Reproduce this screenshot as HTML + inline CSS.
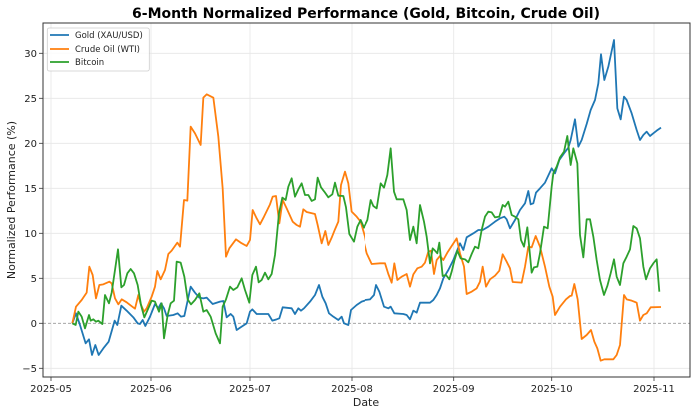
<!DOCTYPE html>
<html><head><meta charset="utf-8"><style>
body{margin:0;background:#fff;}
svg{display:block;font-family:"DejaVu Sans","Liberation Sans",sans-serif;}
</style></head><body>
<svg width="696" height="415" viewBox="0 0 696 415" xmlns="http://www.w3.org/2000/svg">
<rect width="696" height="415" fill="#fff"/>
<text x="366" y="18" text-anchor="middle" font-size="14" font-weight="bold" fill="#000">6-Month Normalized Performance (Gold, Bitcoin, Crude Oil)</text>
<g stroke="#e6e6e6" stroke-width="0.8">
<line x1="51" y1="23" x2="51" y2="377"/><line x1="151" y1="23" x2="151" y2="377"/><line x1="250" y1="23" x2="250" y2="377"/><line x1="352" y1="23" x2="352" y2="377"/><line x1="453.7" y1="23" x2="453.7" y2="377"/><line x1="551.7" y1="23" x2="551.7" y2="377"/><line x1="654" y1="23" x2="654" y2="377"/>
<line x1="43" y1="53.3" x2="690" y2="53.3"/><line x1="43" y1="98.3" x2="690" y2="98.3"/><line x1="43" y1="143.3" x2="690" y2="143.3"/><line x1="43" y1="188.3" x2="690" y2="188.3"/><line x1="43" y1="233.3" x2="690" y2="233.3"/><line x1="43" y1="278.3" x2="690" y2="278.3"/><line x1="43" y1="368.3" x2="690" y2="368.3"/>
</g>
<line x1="43" y1="323.3" x2="690" y2="323.3" stroke="#999" stroke-width="0.8" stroke-dasharray="3,2"/>
<defs><clipPath id="c1"><rect x="0" y="0" width="975" height="1300"/></clipPath><clipPath id="c2"><rect x="15" y="0" width="990" height="1300"/></clipPath></defs>
<g transform="translate(40,0) scale(0.33333)" fill="none" stroke-width="1.8" stroke-linejoin="round" clip-path="url(#c1)">
<polyline vector-effect="non-scaling-stroke" stroke="#1f77b4" points="97,970 108,940 120,975 137,1030 147,1018 156,1065 166,1035 176,1065 190,1045 206,1025 216,990 224,962 232,975 244,917 260,932 280,952 293,970 300,972 308,960 316,978 330,950 345,912 355,925 363,910 372,925 380,948 400,945 413,940 423,950 433,948 452,860 465,878 478,893 490,895 500,893 518,912 540,905 550,903 560,952 572,942 580,950 590,990 605,980 620,970 630,935 637,928 650,942 685,942 697,962 710,958 718,955 728,922 755,925 765,942 775,925 783,932 792,925 810,905 825,885 837,855 847,890 857,910 867,940 880,950 895,960 905,950 912,970 925,975 933,930 950,915 965,905 980,900 990,890"/>
<polyline vector-effect="non-scaling-stroke" stroke="#ff7f0e" points="97,970 108,920 125,900 140,878 148,800 158,825 168,895 178,855 190,853 208,845 215,850 225,895 235,913 245,898 260,907 273,917 285,926 295,885 302,912 312,935 320,925 335,890 345,860 352,813 362,838 375,810 385,762 395,752 412,728 420,740 432,600 442,602 452,380 465,400 482,435 490,293 500,283 520,293 535,410 548,565 558,770 568,745 588,718 602,728 620,738 630,720 638,630 650,655 660,673 672,650 690,613 698,590 708,588 718,670 728,600 740,625 758,665 770,675 780,680 790,628 800,636 825,642 833,675 845,730 856,693 865,735 875,713 885,688 895,665 903,555 915,515 925,550 935,635 950,650 962,665 975,710 990,790"/>
<polyline vector-effect="non-scaling-stroke" stroke="#2ca02c" points="97,970 107,975 115,935 125,950 135,985 147,945 152,962 160,958 168,965 175,962 187,972 195,885 207,910 215,878 225,810 234,748 244,862 252,855 262,820 272,807 282,820 293,855 303,915 313,952 322,932 335,902 345,905 357,935 365,910 372,1015 383,945 392,910 402,902 410,785 422,788 433,830 443,898 453,913 465,900 478,880 490,935 500,930 512,950 527,1000 540,1030 548,920 558,898 570,860 580,870 592,862 605,835 615,870 628,908 637,825 648,800 656,847 665,840 675,818 685,838 695,822 705,765 717,640 727,593 737,600 745,560 755,535 765,590 775,568 785,550 795,585 805,585 815,603 825,598 833,533 843,562 853,575 865,592 877,583 885,548 895,587 910,588 918,622 928,702 942,725 952,680 962,660 972,683 985,655 990,600"/>
</g>
<g transform="translate(360,0) scale(0.33333)" fill="none" stroke-width="1.8" stroke-linejoin="round" clip-path="url(#c2)">
<polyline vector-effect="non-scaling-stroke" stroke="#1f77b4" points="0,910 15,900 30,898 42,885 48,855 58,875 72,920 85,925 92,920 103,940 130,942 140,945 150,958 160,932 170,938 180,908 210,908 220,900 230,885 240,865 250,835 265,810 280,780 300,730 310,750 320,712 340,700 355,690 368,690 385,680 405,665 420,655 433,650 440,658 450,685 465,660 480,630 495,610 505,573 512,613 520,610 528,578 540,565 555,548 575,505 585,520 598,480 612,460 625,443 632,420 645,358 655,440 665,420 680,372 692,330 705,300 715,250 723,163 733,240 745,200 762,120 772,325 782,358 792,290 800,300 815,340 830,390 840,420 850,405 860,395 870,408 880,400 890,392 903,383"/>
<polyline vector-effect="non-scaling-stroke" stroke="#ff7f0e" points="0,670 10,720 20,760 35,792 60,790 75,790 85,822 95,848 103,790 112,840 125,830 140,822 150,860 160,823 172,805 185,800 195,788 205,755 213,752 222,822 230,780 240,768 250,780 262,758 275,738 290,715 300,760 312,800 320,882 335,875 350,865 360,845 368,800 378,860 390,838 405,827 418,812 428,763 440,785 450,805 458,846 485,848 495,800 505,740 515,742 527,708 540,740 555,800 568,860 578,890 585,945 600,920 618,898 630,888 635,887 643,852 653,898 665,1017 680,1005 693,990 703,1025 712,1045 722,1082 733,1078 760,1078 770,1065 780,1035 792,885 800,898 815,902 830,908 840,962 850,945 860,940 872,922 903,921"/>
<polyline vector-effect="non-scaling-stroke" stroke="#2ca02c" points="0,660 10,685 22,660 32,600 40,618 50,625 62,550 72,563 82,525 92,445 102,575 110,598 130,598 140,630 150,720 160,680 170,730 180,615 192,665 200,710 210,790 218,745 225,752 232,760 238,728 248,828 258,825 268,838 275,815 283,782 292,752 302,775 315,778 325,787 335,762 345,740 355,745 365,690 375,650 385,635 395,637 405,652 418,650 428,615 435,620 445,605 455,645 465,650 475,658 483,720 492,740 502,682 515,818 522,802 532,800 540,760 552,680 563,685 575,560 580,520 590,500 600,472 612,455 622,408 632,495 640,445 652,490 660,705 670,772 680,658 690,658 700,710 710,780 720,840 732,885 742,858 752,820 762,778 770,830 780,855 790,790 800,770 810,748 820,678 830,685 840,715 850,800 858,838 870,805 880,790 890,778 898,875"/>
</g>
<rect x="43" y="23" width="647" height="354" fill="none" stroke="#333" stroke-width="1"/>
<g stroke="#333" stroke-width="0.8">
<line x1="51" y1="377" x2="51" y2="381"/><line x1="151" y1="377" x2="151" y2="381"/><line x1="250" y1="377" x2="250" y2="381"/><line x1="352" y1="377" x2="352" y2="381"/><line x1="453.7" y1="377" x2="453.7" y2="381"/><line x1="551.7" y1="377" x2="551.7" y2="381"/><line x1="654" y1="377" x2="654" y2="381"/>
<line x1="39" y1="53.3" x2="43" y2="53.3"/><line x1="39" y1="98.3" x2="43" y2="98.3"/><line x1="39" y1="143.3" x2="43" y2="143.3"/><line x1="39" y1="188.3" x2="43" y2="188.3"/><line x1="39" y1="233.3" x2="43" y2="233.3"/><line x1="39" y1="278.3" x2="43" y2="278.3"/><line x1="39" y1="323.3" x2="43" y2="323.3"/><line x1="39" y1="368.3" x2="43" y2="368.3"/>
</g>
<g font-size="10" fill="#222" text-anchor="middle">
<text x="51" y="392">2025-05</text><text x="151" y="392">2025-06</text><text x="250" y="392">2025-07</text><text x="352" y="392">2025-08</text><text x="453.7" y="392">2025-09</text><text x="551.7" y="392">2025-10</text><text x="654" y="392">2025-11</text>
</g>
<g font-size="10" fill="#222" text-anchor="end">
<text x="37" y="57">30</text><text x="37" y="102">25</text><text x="37" y="147">20</text><text x="37" y="192">15</text><text x="37" y="237">10</text><text x="37" y="282">5</text><text x="37" y="327">0</text><text x="37" y="372">−5</text>
</g>
<text x="366" y="406" font-size="11" text-anchor="middle" fill="#222">Date</text>
<text transform="translate(15,200) rotate(-90)" font-size="11" text-anchor="middle" fill="#222">Normalized Performance (%)</text>
<rect x="47.3" y="28" width="102" height="43" fill="#fff" fill-opacity="0.85" stroke="#ccc" stroke-width="0.8" rx="2"/>
<line x1="50" y1="35" x2="69" y2="35" stroke="#1f77b4" stroke-width="1.8"/>
<line x1="50" y1="49" x2="69" y2="49" stroke="#ff7f0e" stroke-width="1.8"/>
<line x1="50" y1="62" x2="69" y2="62" stroke="#2ca02c" stroke-width="1.8"/>
<g font-size="8.5" fill="#222"><text x="75" y="38">Gold (XAU/USD)</text><text x="75" y="52">Crude Oil (WTI)</text><text x="75" y="65">Bitcoin</text></g>
</svg>
</body></html>
